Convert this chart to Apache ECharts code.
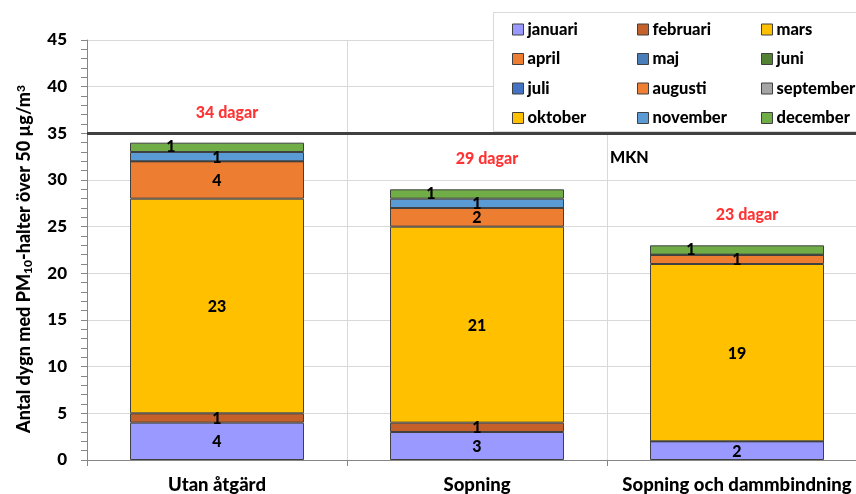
<!DOCTYPE html>
<html><head><meta charset="utf-8">
<script src="https://cdn.jsdelivr.net/npm/echarts@6/dist/echarts.min.js"></script>
<style>html,body{margin:0;padding:0;background:#fff}#c{width:856px;height:494px}</style>
</head><body><div id="c"></div>
<script>
const categories = ['Utan åtgärd', 'Sopning', 'Sopning och dammbindning'];
const months = ['januari','februari','mars','april','maj','juni','juli','augusti','september','oktober','november','december'];
const januari   = [4, 3, 2];
const februari  = [1, 1, 0];
const mars      = [23, 21, 19];
const april     = [4, 2, 1];
const maj       = [0, 0, 0];
const juni      = [0, 0, 0];
const juli      = [0, 0, 0];
const augusti   = [0, 0, 0];
const september = [0, 0, 0];
const oktober   = [0, 0, 0];
const november  = [1, 1, 0];
const december  = [1, 1, 1];
const totals    = [34, 29, 23];
const mkn = 35;
const yTicks = [0, 5, 10, 15, 20, 25, 30, 35, 40, 45];

const monthData = [januari, februari, mars, april, maj, juni, juli, augusti, september, oktober, november, december];
const colors = ['#9999FF','#C4602A','#FFC000','#ED7D31','#4A7EBB','#548235','#4472C4','#EE7F35','#A5A5A5','#FFC000','#5B9BD5','#70AD47'];
const FONT = 'Lato';
const W = 900;

const series = months.map((m, i) => ({
  name: m,
  type: 'bar',
  stack: 'total',
  barWidth: 174,
  data: monthData[i],
  itemStyle: { color: colors[i], borderColor: '#404040', borderWidth: 1 },
  label: {
    show: true,
    position: 'inside',
    offset: m === 'december' ? [-46, 0] : [0, 1],
    fontFamily: FONT, fontWeight: W, fontSize: 16, color: '#000',
    formatter: p => p.value ? String(p.value) : ''
  },
  markLine: i === 0 ? {
    silent: true, symbol: 'none',
    lineStyle: { color: '#404040', width: 3, type: 'solid' },
    label: { show: false },
    data: [{ yAxis: mkn }]
  } : undefined
}));

series.push({
  name: 'totals',
  type: 'scatter',
  data: totals,
  symbolSize: 0,
  silent: true,
  z: 5,
  label: {
    show: true, position: 'inside', offset: [10, -30],
    fontFamily: FONT, fontWeight: W, fontSize: 16, color: '#FF0000',
    formatter: p => p.value + ' dagar'
  }
});

function legendCol(items, left) {
  return {
    orient: 'vertical', left: left, top: 21, padding: 0,
    itemWidth: 11, itemHeight: 11, itemGap: 12.5,
    icon: 'rect',
    selectedMode: false,
    data: items,
    itemStyle: { borderColor: '#404040', borderWidth: 1 },
    textStyle: { fontFamily: FONT, fontWeight: W, fontSize: 16.5, color: '#000', lineHeight: 17, padding: [0,0,0,-1] }
  };
}

const chart = echarts.init(document.getElementById('c'), null, { renderer: 'canvas' });
chart.setOption({
  animation: false,
  backgroundColor: '#fff',
  grid: { left: 87, top: 40, bottom: 34, width: 780, containLabel: false, outerBoundsMode: 'none' },
  legend: [
    legendCol([months[0], months[3], months[6], months[9]], 512),
    legendCol([months[1], months[4], months[7], months[10]], 637),
    legendCol([months[2], months[5], months[8], months[11]], 761)
  ],
  graphic: [
    { type: 'rect', left: 493, top: 12, z: 3, shape: { width: 420, height: 119 },
      style: { fill: '#fff', stroke: '#D9D9D9', lineWidth: 1 } },
    { type: 'text', left: 610, top: 150, z: 5,
      style: { text: 'MKN', fontFamily: FONT, fontWeight: W, fontSize: 16, fill: '#000' } }
  ],
  xAxis: {
    type: 'category',
    data: categories,
    axisLine: { lineStyle: { color: '#868686', width: 1 } },
    axisTick: { show: true, length: 6, lineStyle: { color: '#868686' } },
    splitLine: { show: true, lineStyle: { color: '#D9D9D9' } },
    axisLabel: { interval: 0, fontFamily: FONT, fontWeight: W, fontSize: 18.5, color: '#000', margin: 16 }
  },
  yAxis: {
    type: 'value',
    min: yTicks[0], max: yTicks[yTicks.length - 1], interval: 5,
    name: '{n|Antal dygn med PM}{s|10}{n|-halter över 50 µg/m}{p|3}',
    nameLocation: 'middle',
    nameGap: 53,
    nameTextStyle: {
      rich: {
        n: { fontFamily: FONT, fontWeight: W, fontSize: 18, color: '#000' },
        s: { fontFamily: FONT, fontWeight: W, fontSize: 12, color: '#000', verticalAlign: 'bottom', padding: [7,0,0,0] },
        p: { fontFamily: FONT, fontWeight: W, fontSize: 12, color: '#000', verticalAlign: 'top', padding: [0,18,7,0] }
      }
    },
    axisLine: { show: true, lineStyle: { color: '#868686', width: 1 } },
    axisTick: { show: true, length: 6, lineStyle: { color: '#868686' } },
    minorTick: { show: true, splitNumber: 5, length: 6, lineStyle: { color: '#868686' } },
    splitLine: { show: true, lineStyle: { color: '#D9D9D9' } },
    axisLabel: { fontFamily: FONT, fontWeight: W, fontSize: 17, color: '#000', margin: 20,
      formatter: v => yTicks.includes(v) ? String(v) : '' }
  },
  series: series
});
</script></body></html>
